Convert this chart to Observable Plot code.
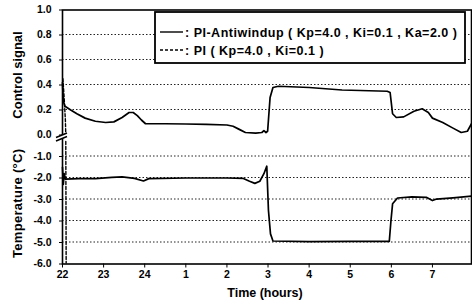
<!DOCTYPE html>
<html><head><meta charset="utf-8">
<script src="https://cdn.jsdelivr.net/npm/d3@7"></script>
<script src="https://cdn.jsdelivr.net/npm/@observablehq/plot@0.6"></script>
<style>body{margin:0;background:#fff} #chart{position:relative;width:472px;height:302px}</style>
</head><body><div id="chart"></div>
<script>
// Time in hours elapsed since 22:00
const xTickValues = [0, 1, 2, 3, 4, 5, 6, 7, 8, 9];
const xTickLabels = ["22", "23", "24", "1", "2", "3", "4", "5", "6", "7"];
const yTickValues = [-6, -5, -4, -3, -2, -1, 0, 0.2, 0.4, 0.6, 0.8, 1.0];
const gridValues = [0.2, 0.4, 0.6, 0.8, -1, -2, -3, -4, -5];

// PI-Antiwindup (solid): control signal
const awTimeC = [0.00, 0.02, 0.06, 0.2, 0.35, 0.55, 0.8, 1.05, 1.25, 1.45, 1.62, 1.72, 1.82, 1.92, 2.02, 2.5, 3.0, 3.5, 4.0, 4.15, 4.3, 4.45, 4.7, 4.85, 4.9, 4.95, 4.99, 5.05, 5.12, 5.25, 6.0, 6.8, 7.9, 7.97, 8.03, 8.12, 8.3, 8.55, 8.75, 8.9, 9.0, 9.25, 9.5, 9.7, 9.85, 9.95];
const awControl = [0.42, 0.27, 0.23, 0.20, 0.17, 0.135, 0.11, 0.10, 0.105, 0.14, 0.18, 0.18, 0.155, 0.12, 0.09, 0.09, 0.088, 0.085, 0.08, 0.07, 0.045, 0.02, 0.015, 0.02, 0.035, 0.02, 0.03, 0.30, 0.38, 0.39, 0.38, 0.36, 0.35, 0.34, 0.17, 0.14, 0.145, 0.19, 0.21, 0.18, 0.135, 0.10, 0.055, 0.02, 0.03, 0.09];
// PI-Antiwindup (solid): temperature
const awTimeT = [0.0, 0.02, 0.04, 0.07, 0.4, 0.8, 1.2, 1.45, 1.75, 1.97, 2.1, 3.0, 4.0, 4.4, 4.55, 4.68, 4.8, 4.9, 4.97, 5.01, 5.06, 5.12, 6.0, 7.0, 7.95, 7.99, 8.03, 8.15, 8.5, 8.85, 9.0, 9.1, 9.5, 9.95];
const awTemp = [-1.5, -2.3, -1.8, -2.05, -2.03, -2.03, -1.97, -1.95, -2.02, -2.14, -2.03, -2.0, -2.0, -2.02, -2.15, -2.25, -2.15, -1.8, -1.45, -3.5, -4.6, -4.93, -4.96, -4.95, -4.95, -4.0, -3.2, -2.93, -2.88, -2.9, -3.05, -2.98, -2.92, -2.84];
// PI (dashed)
const piTimeC = [0.01, 0.04, 0.07, 0.08];
const piControl = [0.45, 0.30, 0.12, 0.0];
const piTimeT = [0.08, 0.085, 0.09];
const piTemp = [-0.3, -3.5, -6.5];

const zip = (xs, ys) => xs.map((h, i) => ({h, v: ys[i]}));
const font = "'Liberation Sans', Arial, Helvetica, sans-serif";

const plot = Plot.plot({
  width: 472, height: 302,
  marginLeft: 62, marginRight: 1, marginTop: 9.5, marginBottom: 38.5,
  style: {fontFamily: font, fontWeight: "bold", fontSize: "10.5px", background: "white"},
  x: {type: "linear", domain: [0, 9.95], range: [62, 471], ticks: xTickValues,
      tickFormat: d => xTickLabels[xTickValues.indexOf(d)], tickSize: 4, tickPadding: 3, label: null},
  y: {type: "linear", domain: [-6, 0, 1], range: [263.5, 134.5, 9.5], ticks: yTickValues,
      tickFormat: d => d.toFixed(1), tickSize: 3, tickPadding: 8, label: null},
  marks: [
    Plot.line(zip(awTimeC, awControl), {x: "h", y: "v", stroke: "black", strokeWidth: 1.7}),
    Plot.line(zip(awTimeT, awTemp), {x: "h", y: "v", stroke: "black", strokeWidth: 1.7}),
    Plot.line(zip(piTimeC, piControl), {x: "h", y: "v", stroke: "black", strokeWidth: 1.4, strokeDasharray: "3,2"}),
    Plot.line(zip(piTimeT, piTemp), {x: "h", y: "v", stroke: "black", strokeWidth: 1.4, strokeDasharray: "3,2", clip: true}),
    Plot.frame({stroke: "black", strokeWidth: 1.6})
  ]
});
document.getElementById("chart").appendChild(plot);

const svg = d3.select(plot);
const xs = plot.scale("x"), ys = plot.scale("y");
const x0 = xs.apply(0), y0 = ys.apply(0);

// dotted horizontal gridlines, positioned through the plot's y scale
const grid = svg.insert("g", "g[aria-label='line']");
grid.selectAll("line").data(gridValues).join("line")
  .attr("x1", xs.apply(0)).attr("x2", xs.apply(9.95))
  .attr("y1", d => ys.apply(d)).attr("y2", d => ys.apply(d))
  .attr("stroke", "#222").attr("stroke-width", 1).attr("stroke-dasharray", "1.5,2");

// axis break mark at 0.0
const brk = svg.append("g");
brk.append("polygon").attr("points", `${x0-6},${y0+3} ${x0+5},${y0-1.5} ${x0+5},${y0+2} ${x0-6},${y0+6.5}`).attr("fill", "white");
brk.append("line").attr("x1", x0-6).attr("y1", y0+3).attr("x2", x0+5).attr("y2", y0-1.5).attr("stroke", "black").attr("stroke-width", 1.5);
brk.append("line").attr("x1", x0-6).attr("y1", y0+6.5).attr("x2", x0+5).attr("y2", y0+2).attr("stroke", "black").attr("stroke-width", 1.5);

// axis titles
const t = svg.append("g").attr("font-family", font).attr("font-weight", "bold").attr("fill", "black").attr("text-anchor", "middle");
t.append("text").attr("transform", `translate(22,${ys.apply(0.5) + 3}) rotate(-90)`).attr("font-size", "13px").text("Control signal");
t.append("text").attr("transform", `translate(22,${ys.apply(-3.2)}) rotate(-90)`).attr("font-size", "13px").attr("letter-spacing", "0.3px").text("Temperature (°C)");
t.append("text").attr("x", 265).attr("y", 297).attr("font-size", "12.5px").text("Time (hours)");

// legend
const lg = svg.append("g").attr("font-family", font).attr("font-weight", "bold").attr("font-size", "12.5px").attr("text-anchor", "start");
lg.append("rect").attr("x", 155).attr("y", 12).attr("width", 310).attr("height", 51).attr("fill", "white").attr("stroke", "black").attr("stroke-width", 1.8);
const legendItems = [
  {label: ": PI-Antiwindup ( Kp=4.0 , Ki=0.1 , Ka=2.0 )", dash: null},
  {label: ": PI ( Kp=4.0 , Ki=0.1 )", dash: "3,2"}
];
legendItems.forEach((it, i) => {
  const yy = 32 + i * 18;
  const ln = lg.append("line").attr("x1", 160).attr("x2", 183).attr("y1", yy).attr("y2", yy).attr("stroke", "black").attr("stroke-width", 1.4);
  if (it.dash) ln.attr("stroke-dasharray", it.dash);
  lg.append("text").attr("x", 185).attr("y", yy + 4.5).attr("letter-spacing", "0.5px").text(it.label);
});
</script>
</body></html>
